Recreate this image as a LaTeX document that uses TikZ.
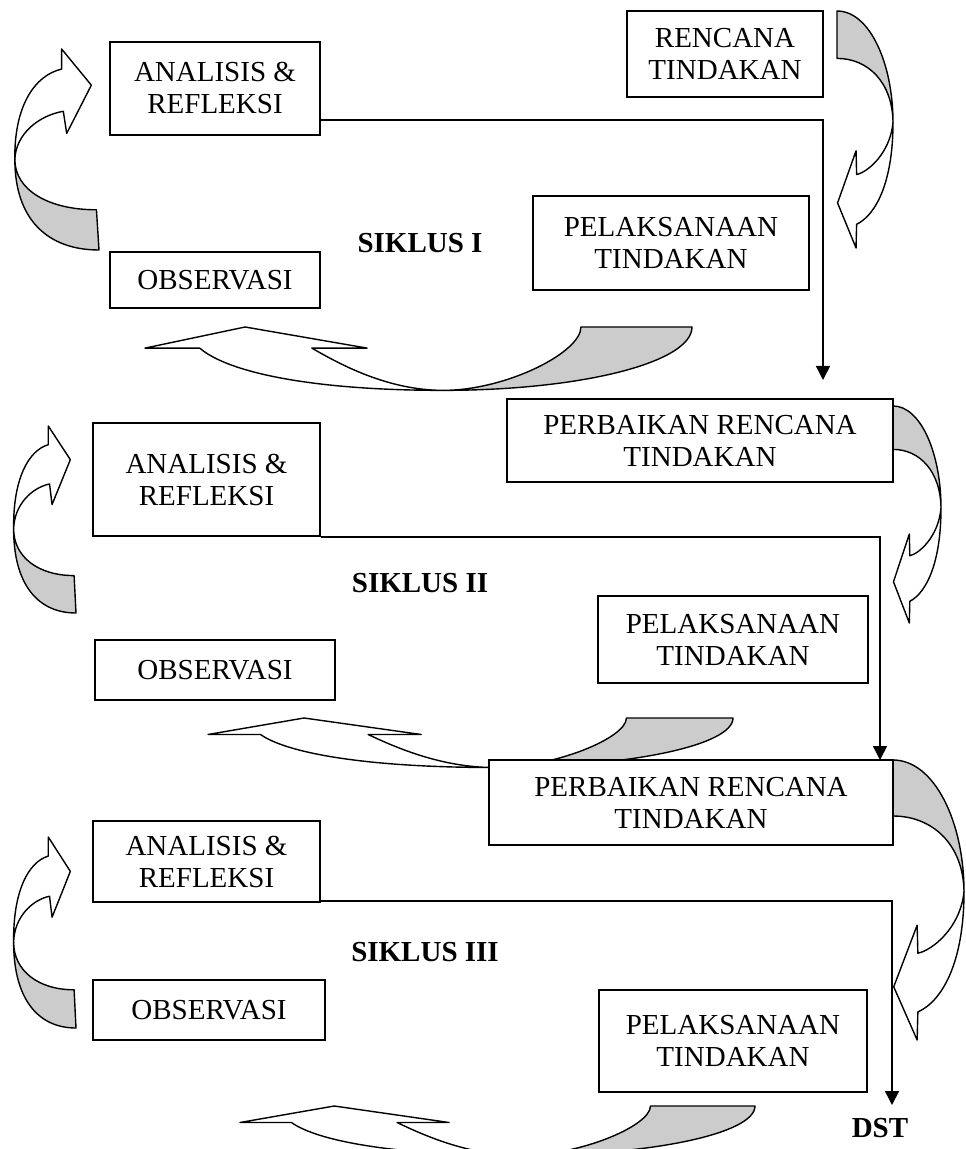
\documentclass[tikz,border=0pt]{standalone}
\usepackage{fontspec}
\setmainfont{Liberation Serif}
\usepackage{tikz}
\usetikzlibrary{arrows.meta, backgrounds}

\tikzset{
  box/.style={shape=rectangle, draw=black, fill=white, line width=0.8pt, align=center, inner sep=0pt, font=\fontsize{14.5}{16}\selectfont},
  cycletitle/.style={font=\bfseries\fontsize{14.5}{16}\selectfont},
  link/.style={line width=0.8pt, -{Triangle[width=7pt,length=7pt]}},
  curl/.style={draw=black, line width=0.7pt, line join=round},
}

\newcommand{\leftcurl}{%
  \filldraw[curl, fill=black!20] (1,55) .. controls (1,85) and (40,100) .. (100,100) -- (97,80) .. controls (40,80) and (1,70) .. (1,55) -- cycle;
  \filldraw[curl, fill=white] (1,55) .. controls (0,28) and (25,13) .. (56,10) -- (56,0) -- (91,18) -- (62,42) -- (58,31) .. controls (30,33) and (2,42) .. (1,55) -- cycle;
}
\newcommand{\rightcurl}{%
  \filldraw[curl, fill=black!20] (0,0) .. controls (58,0) and (100,22) .. (100,47) .. controls (99,30) and (55,20) .. (0,20) -- cycle;
  \filldraw[curl, fill=white] (100,47) .. controls (100,72) and (70,86) .. (35,90) -- (34,100) -- (1,81) -- (34,59) -- (35,69) .. controls (55,68) and (95,60) .. (100,47) -- cycle;
}
\newcommand{\bottomcurl}{%
  \filldraw[curl, fill=black!20] (54.5,99) .. controls (80,99) and (100,55) .. (100,0) -- (79.7,0) .. controls (79.7,40) and (66,99) .. (54.5,99) -- cycle;
  \filldraw[curl, fill=white] (54.5,99) .. controls (44,99) and (35,55) .. (30.5,33) -- (40.6,33) -- (18.3,0) -- (0,33) -- (10,33) .. controls (15,70) and (30,99) .. (54.5,99) -- cycle;
}

\begin{document}
\begin{tikzpicture}[x=0.5pt, y=-0.5pt]
  \useasboundingbox (0,0) rectangle (965,1149);

  \begin{scope}[on background layer]
    \begin{scope}[shift={(14,49)}, xscale=0.85, yscale=2.01] \leftcurl \end{scope}
    \begin{scope}[shift={(837,11)}, xscale=0.56, yscale=2.37] \rightcurl \end{scope}
    \begin{scope}[shift={(145,327)}, xscale=5.47, yscale=0.64] \bottomcurl \end{scope}

    \begin{scope}[shift={(13,426)}, xscale=0.63, yscale=1.87] \leftcurl \end{scope}
    \begin{scope}[shift={(893,406)}, xscale=0.48, yscale=2.17] \rightcurl \end{scope}
    \begin{scope}[shift={(208,718)}, xscale=5.25, yscale=0.5] \bottomcurl \end{scope}

    \begin{scope}[shift={(13,837)}, xscale=0.63, yscale=1.91] \leftcurl \end{scope}
    \begin{scope}[shift={(893,760)}, xscale=0.71, yscale=2.8] \rightcurl \end{scope}
    \begin{scope}[shift={(240,1106)}, xscale=5.15, yscale=0.5] \bottomcurl \end{scope}
  \end{scope}

  \node[box, minimum width=105pt, minimum height=46.5pt] (analisisA) at (215,88.5) {ANALISIS \&\\REFLEKSI};
  \node[box, minimum width=98pt, minimum height=43pt] (rencana) at (725,54) {RENCANA\\TINDAKAN};
  \node[box, minimum width=138pt, minimum height=47pt] (pelaksanaanA) at (671,243) {PELAKSANAAN\\TINDAKAN};
  \node[box, minimum width=105pt, minimum height=28pt] (observasiA) at (215,280) {OBSERVASI};
  \node[cycletitle] (siklusA) at (420,243) {SIKLUS I};

  \node[box, minimum width=193pt, minimum height=41.5pt] (perbaikanB) at (700,440.5) {PERBAIKAN RENCANA\\TINDAKAN};
  \node[box, minimum width=113.5pt, minimum height=56.5pt] (analisisB) at (206.5,479.5) {ANALISIS \&\\REFLEKSI};
  \node[box, minimum width=135pt, minimum height=43.5pt] (pelaksanaanB) at (733,639.5) {PELAKSANAAN\\TINDAKAN};
  \node[box, minimum width=120pt, minimum height=30pt] (observasiB) at (215,670) {OBSERVASI};
  \node[cycletitle] (siklusB) at (420,583) {SIKLUS II};

  \node[box, minimum width=202pt, minimum height=42.5pt] (perbaikanC) at (691,802.5) {PERBAIKAN RENCANA\\TINDAKAN};
  \node[box, minimum width=113.5pt, minimum height=40.5pt] (analisisC) at (206.5,861.5) {ANALISIS \&\\REFLEKSI};
  \node[box, minimum width=134pt, minimum height=51pt] (pelaksanaanC) at (733,1041) {PELAKSANAAN\\TINDAKAN};
  \node[box, minimum width=116pt, minimum height=30pt] (observasiC) at (209,1010) {OBSERVASI};
  \node[cycletitle] (siklusC) at (425,952) {SIKLUS III};
  \node[cycletitle] (dst) at (880,1128) {DST};

  \coordinate (tipA) at (823,380);
  \coordinate (tipB) at (880,760);
  \coordinate (tipC) at (892,1105);
  \draw[link] ([yshift=8pt]analisisA.south east) -| (tipA);
  \draw[link] (analisisB.south east) -| (tipB);
  \draw[link] ([yshift=1pt]analisisC.south east) -| (tipC);
\end{tikzpicture}
\end{document}
